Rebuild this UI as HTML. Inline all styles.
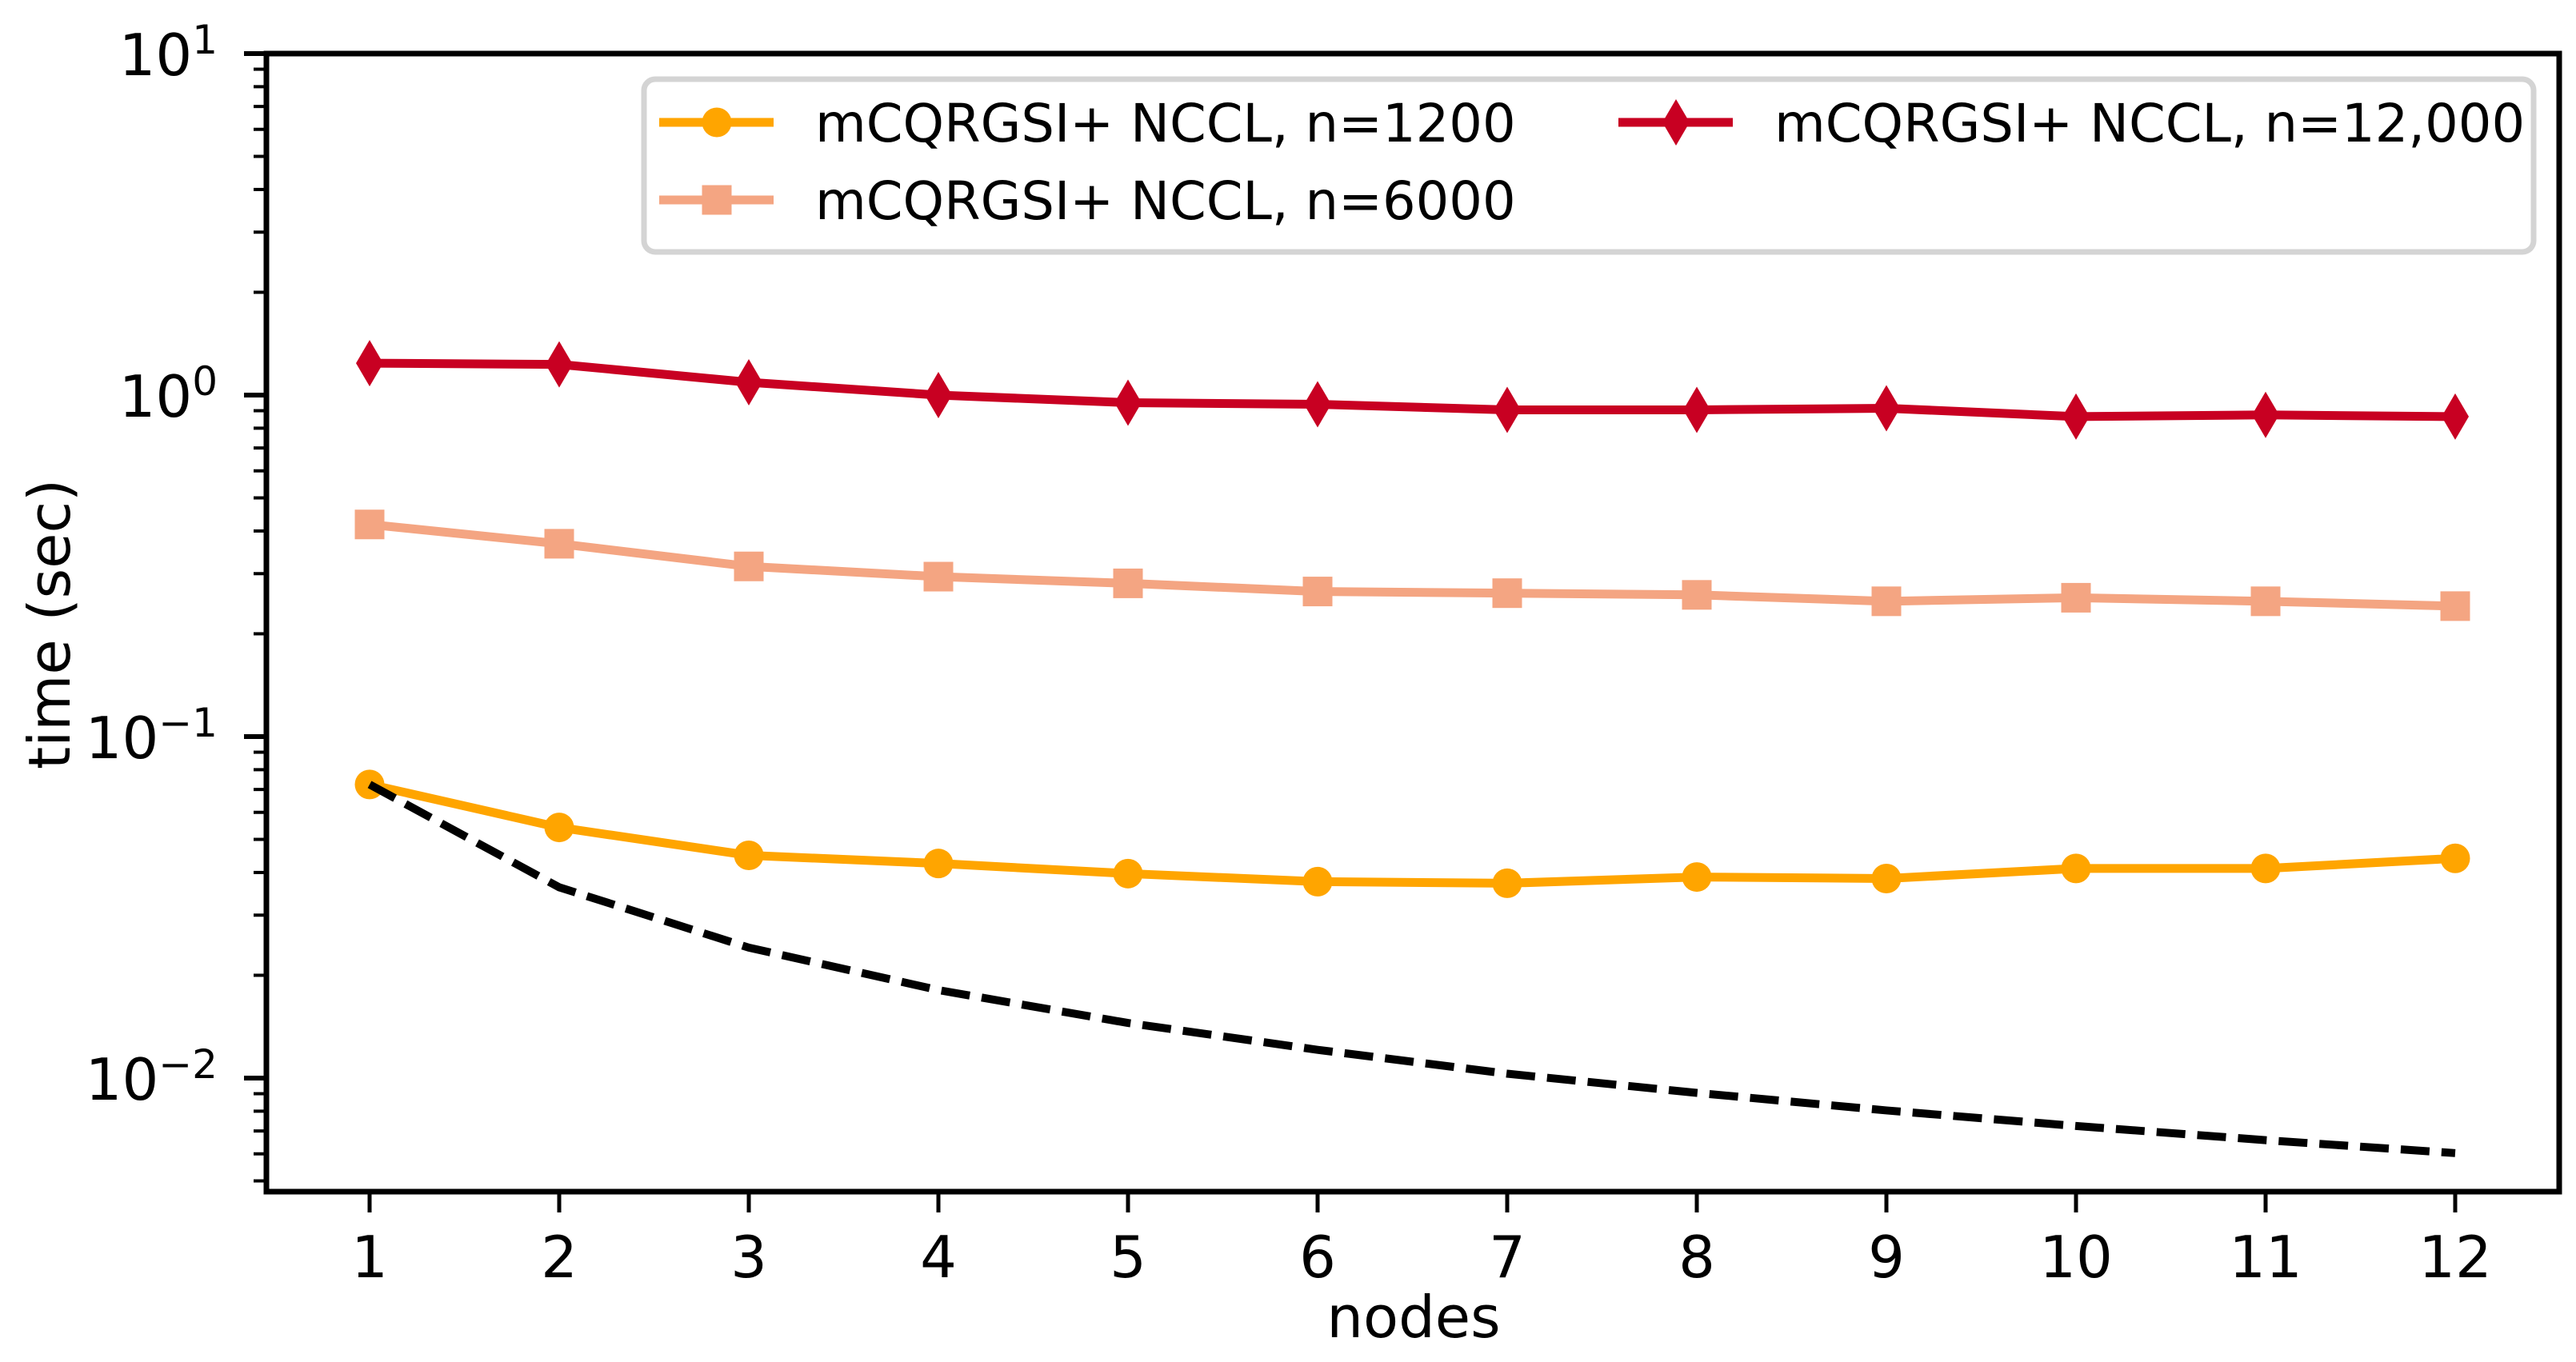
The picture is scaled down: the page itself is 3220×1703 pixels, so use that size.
<!DOCTYPE html>
<html><head><meta charset="utf-8"><style>
html,body{margin:0;padding:0;background:#fff;}
svg{display:block;font-family:"DejaVu Sans","Liberation Sans",sans-serif;}
</style></head><body>
<svg id="chart" width="3220" height="1703" viewBox="0 0 3220 1703" xmlns="http://www.w3.org/2000/svg">
<rect x="0" y="0" width="3220" height="1703" fill="#fff"/>
<g id="plot"></g>
<g id="axes"></g>
<g id="legend"></g>
</svg>
<script>
const nodes = [1,2,3,4,5,6,7,8,9,10,11,12];
const xTickLabels = ["1","2","3","4","5","6","7","8","9","10","11","12"];
const yTickExps = ["1","0","\u22121","\u22122"];
const yTickVals = [10,1,0.1,0.01];
const s1200 = [0.0724,0.0542,0.0449,0.0425,0.0397,0.0376,0.0372,0.0388,0.0384,0.0411,0.0411,0.0440];
const s6000 = [0.418,0.367,0.315,0.294,0.281,0.266,0.263,0.260,0.249,0.255,0.249,0.241];
const s12000 = [1.24,1.23,1.09,1.0,0.95,0.94,0.905,0.905,0.915,0.865,0.875,0.865];
const ideal = [0.0724,0.0362,0.0241,0.0181,0.0145,0.0121,0.0103,0.00905,0.00804,0.00724,0.00658,0.00603];

const NS="http://www.w3.org/2000/svg";
const L=333,R=3199,T=67,B=1490;
const yTop=1, yPx=427;
function X(v){return 462+(v-1)*237;}
function Y(v){return T+(yTop-Math.log10(v))*yPx;}
function mk(tag,attrs,parent){const e=document.createElementNS(NS,tag);for(const k in attrs)e.setAttribute(k,attrs[k]);parent.appendChild(e);return e;}
const plot=document.getElementById('plot'),axes=document.getElementById('axes'),leg=document.getElementById('legend');

function series(vals,color,marker,name,dash){
  const g=mk('g',{},plot);
  
  
  const pts=vals.map((v,i)=>X(nodes[i])+','+Y(v)).join(' ');
  const pl=mk('polyline',{points:pts,fill:'none',stroke:color,'stroke-width':dash?10:11,'stroke-linejoin':'round'},g);
  if(dash)pl.setAttribute('stroke-dasharray','36 15');
  
  
  if(marker){vals.forEach((v,i)=>{const m=drawMarker(g,marker,X(nodes[i]),Y(v),color);
    
    });}
}
function drawMarker(g,type,cx,cy,color){
  if(type==='circle')return mk('circle',{cx:cx,cy:cy,r:18.5,fill:color},g);
  if(type==='square')return mk('rect',{x:cx-18.5,y:cy-18.5,width:37,height:37,fill:color},g);
  return mk('polygon',{points:`${cx},${cy-29} ${cx+17},${cy} ${cx},${cy+29} ${cx-17},${cy}`,fill:color},g);
}
series(s12000,'#c80022','diamond','series-n12000');
series(s6000,'#f4a582','square','series-n6000');
series(s1200,'#ffa500','circle','series-n1200');
series(ideal,'#000','', 'ideal-scaling',true);

const fr=mk('rect',{x:L,y:T,width:R-L,height:B-T,fill:'none',stroke:'#000','stroke-width':7},axes);


nodes.forEach((n,i)=>{
  const t=mk('line',{x1:X(n),x2:X(n),y1:B,y2:B+26,stroke:'#000','stroke-width':5},axes);
  
  
  const tx=mk('text',{x:X(n),y:1597,'text-anchor':'middle','font-size':72},axes);
  tx.textContent=xTickLabels[i];
  
  
});
yTickVals.forEach((v,i)=>{
  const y=Y(v);
  const t=mk('line',{x1:L-28,x2:L,y1:y,y2:y,stroke:'#000','stroke-width':6},axes);
  
  
  const tx=mk('text',{x:272,y:y+27,'text-anchor':'end','font-size':72},axes);
  
  
  const a=mk('tspan',{},tx);a.textContent='10';
  const b=mk('tspan',{dy:-27,'font-size':50},tx);b.textContent=yTickExps[i];
});
for(let e=-3;e<=0;e++){for(let k=2;k<=9;k++){const v=k*Math.pow(10,e);const y=Y(v);if(y<T||y>B)continue;
  const t=mk('line',{x1:L-16,x2:L,y1:y,y2:y,stroke:'#000','stroke-width':4},axes);
  
  }}
const xl=mk('text',{x:1767,y:1672,'text-anchor':'middle','font-size':72},axes);xl.textContent='nodes';


const yl=mk('text',{x:87,y:962,transform:'rotate(-90 87 962)','font-size':72},axes);yl.textContent='time (sec)';



const lb=mk('rect',{x:805,y:99,width:2362,height:216,rx:14,fill:'#fff',stroke:'#d4d4d4','stroke-width':7},leg);


const entries=[['mCQRGSI+ NCCL, n=1200','#ffa500','circle',824,153],['mCQRGSI+ NCCL, n=6000','#f4a582','square',824,250],['mCQRGSI+ NCCL, n=12,000','#c80022','diamond',2023,153]];
entries.forEach(en=>{
  const g=mk('g',{},leg);
  
  
  mk('line',{x1:en[3],x2:en[3]+143,y1:en[4],y2:en[4],stroke:en[1],'stroke-width':11},g);
  drawMarker(g,en[2],en[3]+72,en[4],en[1]);
  const t=mk('text',{x:en[3]+195,y:en[4]+24,'font-size':65.5},g);t.textContent=en[0];
});
</script>
</body></html>
